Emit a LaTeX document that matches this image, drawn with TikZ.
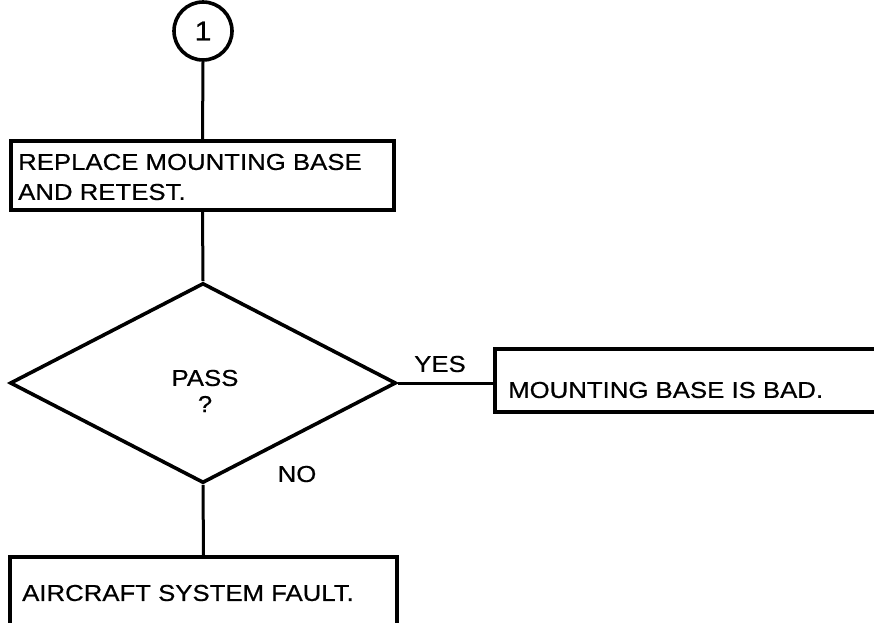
\documentclass[tikz,border=0pt]{standalone}
\usepackage{fontspec}
\setmainfont{Liberation Sans}[FakeStretch=1.12,FakeBold=0.6]
\usetikzlibrary{shapes.geometric}
\begin{document}
\begin{tikzpicture}[x=1pt,y=1pt,
  lbl/.style={font=\fontsize{23}{30}\selectfont, inner sep=0pt},
  frame/.style={draw, line width=3.4pt, rectangle, inner sep=0pt},
  conn/.style={line width=3pt}]
\useasboundingbox (0,0) rectangle (874,-622);
\node[draw, circle, line width=3.6pt, minimum size=58pt, inner sep=0pt, font=\fontsize{27}{27}\selectfont] (c1) at (203,-31) {1};
\node[frame, minimum width=383pt, minimum height=69pt] (b1) at (202.5,-175.5) {};
\node[lbl, anchor=west] (t1a) at (18,-162) {REPLACE MOUNTING BASE};
\node[lbl, anchor=west] (t1b) at (18,-192) {AND RETEST.};
\node[draw, diamond, line width=3.6pt, minimum width=386pt, minimum height=200pt, inner sep=0pt] (d) at (203,-383) {};
\node[lbl] (pass) at (205,-378) {PASS};
\node[lbl] (q) at (205,-404) {?};
\node[frame, minimum width=389pt, minimum height=63pt] (b2) at (689.5,-380.5) {};
\node[lbl, anchor=west] (t2) at (508,-390) {MOUNTING BASE IS BAD.};
\node[frame, minimum width=387pt, minimum height=73pt] (b3) at (203.5,-593.5) {};
\node[lbl, anchor=west] (t3) at (22,-593) {AIRCRAFT SYSTEM FAULT.};
\node[lbl] (yes) at (440,-364) {YES};
\node[lbl] (no) at (297,-474) {NO};
\draw[conn] (c1.south) -- (b1.north);
\draw[conn] (b1.south) -- (d.north);
\draw[conn] (d.east) -- (b2.west |- d.east);
\draw[conn] (d.south) -- (b3.north);
\end{tikzpicture}
\end{document}
